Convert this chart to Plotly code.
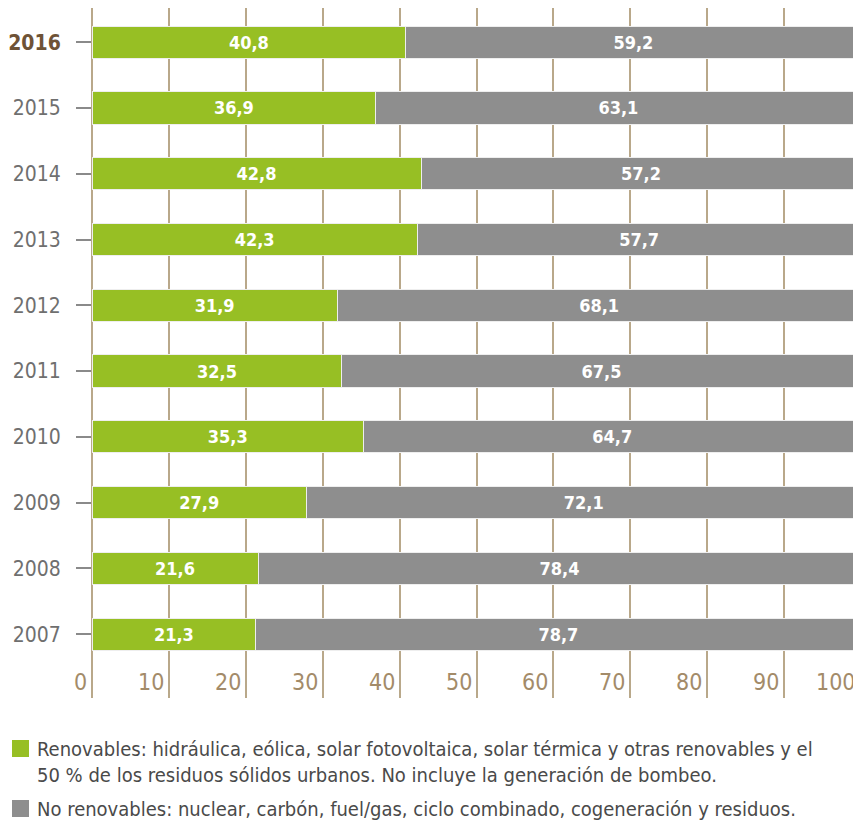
import plotly.graph_objects as go

years = ['2007', '2008', '2009', '2010', '2011', '2012', '2013', '2014', '2015', '2016']
renovables = [21.3, 21.6, 27.9, 35.3, 32.5, 31.9, 42.3, 42.8, 36.9, 40.8]
no_renovables = [78.7, 78.4, 72.1, 64.7, 67.5, 68.1, 57.7, 57.2, 63.1, 59.2]
x_ticks = [0, 10, 20, 30, 40, 50, 60, 70, 80, 90, 100]
legend_labels = [
    'Renovables: hidráulica, eólica, solar fotovoltaica, solar térmica y otras renovables y el<br>'
    '50 % de los residuos sólidos urbanos. No incluye la generación de bombeo.',
    'No renovables: nuclear, carbón, fuel/gas, ciclo combinado, cogeneración y residuos.',
]

GREEN = '#97bf24'
GREY = '#8e8e8e'
GRID = '#b9a88a'
FONT = 'DejaVu Sans Condensed, Liberation Sans Narrow, sans-serif'

# the page body adds an 8px margin around the figure
OFF = 8
W, H = 861 - OFF, 825 - OFF
L, R, T, B = 92 - OFF, 0, 0, H - (698 - OFF)
plot_w = W - L - R
plot_h = H - T - B

def px_x(px):
    # page pixel -> paper coordinate
    return (px - OFF - L) / plot_w

def px_y(py):
    return (H - B - (py - OFF)) / plot_h

# year labels, last one highlighted
year_text = [y for y in years[:-1]] + ['<b><span style="color:#6e5236">%s</span></b>' % years[-1]]

fig = go.Figure()

fig.add_trace(go.Bar(
    x=renovables, y=years, orientation='h', name='Renovables',
    marker=dict(color=GREEN, line=dict(color='#eeeeee', width=1)),
    texttemplate='<b>%{x:.1f}</b>', textposition='inside', insidetextanchor='middle',
    textfont=dict(color='white', size=18, family=FONT), constraintext='none',
))
fig.add_trace(go.Bar(
    x=no_renovables, y=years, orientation='h', name='No renovables',
    marker=dict(color=GREY, line=dict(color='#eeeeee', width=1)),
    texttemplate='<b>%{x:.1f}</b>', textposition='inside', insidetextanchor='middle',
    textfont=dict(color='white', size=18, family=FONT), constraintext='none',
))

tick_len = 15

fig.update_layout(
    width=W, height=H,
    margin=dict(l=L, r=R, t=T, b=B, autoexpand=False),
    barmode='stack', bargap=0.51,
    separators=', ',
    plot_bgcolor='white', paper_bgcolor='white',
    showlegend=False,
    font=dict(family=FONT),
    xaxis=dict(
        range=[0, 100], tickvals=x_ticks, showticklabels=False,
        showgrid=True, gridcolor=GRID, gridwidth=2,
        zeroline=True, zerolinecolor=GRID, zerolinewidth=2,
        ticks='', automargin=False,
        showline=False, fixedrange=True,
    ),
    yaxis=dict(
        type='category', categoryorder='array', categoryarray=years,
        range=[-0.97, 9.52], automargin=False,
        tickvals=years, ticktext=year_text,
        ticks='outside', ticklen=tick_len, tickwidth=2, tickcolor='#8a8a8a',
        ticklabelstandoff=11,
        tickfont=dict(size=21, color='#6f6f6f', family=FONT),
        showgrid=False, zeroline=False, showline=False, fixedrange=True,
    ),
)

# little dot at the end of each year tick
for yr in years:
    fig.add_shape(type='circle', xref='paper', yref='y',
                  xsizemode='pixel', ysizemode='pixel',
                  xanchor=0, yanchor=yr,
                  x0=-tick_len - 4.5, x1=-tick_len + 0.5, y0=-2.5, y1=2.5,
                  fillcolor='#7a7a7a', line=dict(width=0))

# x tick labels sit inside the plot, just left of each grid line
for v in x_ticks:
    fig.add_annotation(xref='x', yref='paper', x=v, y=px_y(697),
                       xanchor='right', yanchor='bottom', xshift=-3, showarrow=False,
                       text=str(v), font=dict(size=23, color='#a38b69', family=FONT))

# legend drawn under the chart
legend_colors = [GREEN, GREY]
legend_tops = [740, 800]
for label, color, top in zip(legend_labels, legend_colors, legend_tops):
    fig.add_shape(type='rect', xref='paper', yref='paper',
                  x0=px_x(12), x1=px_x(29), y0=px_y(top + 17), y1=px_y(top),
                  fillcolor=color, line=dict(width=0))
    fig.add_annotation(xref='paper', yref='paper', x=px_x(35), y=px_y(top - 5),
                       xanchor='left', yanchor='top', align='left', showarrow=False,
                       text=label, font=dict(size=20, color='#4a4a4a', family=FONT))

fig.write_html('out.html')
